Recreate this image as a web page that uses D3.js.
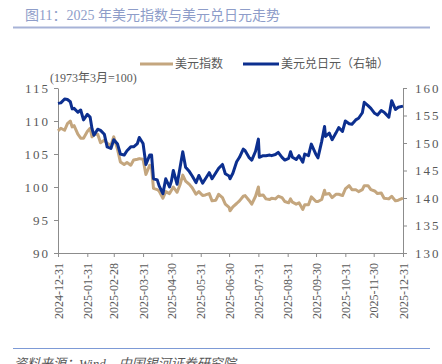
<!DOCTYPE html>
<html>
<head>
<meta charset="utf-8">
<script src="https://cdn.jsdelivr.net/npm/d3@7"></script>
<style>
  body { margin: 0; background: #fff; }
  svg { display: block; }
</style>
</head>
<body>
<div id="chart"></div>
<script>
const width = 442;
const height = 364;

// dates sampled about twice a week
const dates = [
  '2024-12-31','2025-01-03','2025-01-07','2025-01-10','2025-01-13','2025-01-15','2025-01-17','2025-01-21','2025-01-24','2025-01-27',
  '2025-01-31','2025-02-03','2025-02-05','2025-02-07','2025-02-11','2025-02-14','2025-02-18','2025-02-21','2025-02-25','2025-02-28',
  '2025-03-04','2025-03-07','2025-03-11','2025-03-14','2025-03-18','2025-03-21','2025-03-25','2025-03-27','2025-03-31','2025-04-03',
  '2025-04-07','2025-04-09','2025-04-11','2025-04-15','2025-04-17','2025-04-21','2025-04-24','2025-04-28','2025-04-30','2025-05-02',
  '2025-05-06','2025-05-09','2025-05-12','2025-05-15','2025-05-19','2025-05-22','2025-05-26','2025-05-29','2025-06-02','2025-06-05',
  '2025-06-09','2025-06-12','2025-06-16','2025-06-19','2025-06-23','2025-06-26','2025-06-30','2025-07-01','2025-07-04','2025-07-08',
  '2025-07-11','2025-07-15','2025-07-17','2025-07-21','2025-07-24','2025-07-28','2025-07-31','2025-08-01','2025-08-05','2025-08-08',
  '2025-08-12','2025-08-14','2025-08-18','2025-08-21','2025-08-25','2025-08-28','2025-09-01','2025-09-03','2025-09-05','2025-09-09',
  '2025-09-12','2025-09-16','2025-09-18','2025-09-22','2025-09-25','2025-09-30','2025-10-02','2025-10-06','2025-10-09','2025-10-10',
  '2025-10-14','2025-10-17','2025-10-21','2025-10-24','2025-10-28','2025-10-31','2025-11-04','2025-11-07','2025-11-11','2025-11-14',
  '2025-11-18','2025-11-20','2025-11-24','2025-11-27','2025-12-01','2025-12-04','2025-12-08','2025-12-11','2025-12-16','2025-12-19',
  '2025-12-23','2025-12-26','2025-12-31'
];

// 美元指数 (left axis)
const dxy = [
  108.5,108.9,108.6,109.6,110.0,109.1,109.3,108.0,107.4,107.4,
  108.4,108.9,107.6,108.0,108.0,106.7,107.1,106.6,106.3,107.6,
  105.7,103.8,103.4,103.7,103.3,104.1,104.2,104.3,104.2,101.9,
  103.3,102.9,99.8,99.6,99.4,98.3,99.3,99.0,99.5,100.0,
  99.2,100.3,101.8,100.9,100.4,99.9,98.9,99.3,98.7,98.8,
  99.0,97.9,98.0,98.9,98.4,97.4,96.9,96.4,97.0,97.5,
  97.9,98.6,98.7,98.0,97.4,98.6,100.0,98.7,98.8,98.2,
  98.1,98.3,98.2,98.6,98.4,97.8,97.6,98.2,97.7,97.4,
  97.6,96.6,97.3,97.3,98.5,97.8,97.8,98.1,99.5,98.9,
  99.0,98.4,98.9,98.9,98.7,99.7,100.2,99.6,99.6,99.3,
  99.6,100.2,100.2,99.6,99.4,99.0,99.1,98.3,98.2,98.6,
  97.9,98.0,98.3
];

// 美元兑日元 (right axis)
const usdjpy = [
  157.2,157.3,158.0,157.9,157.5,156.2,156.3,155.6,156.0,154.2,
  155.2,154.7,152.6,151.4,152.5,152.3,151.6,149.3,149.0,150.6,
  149.8,148.0,147.8,148.6,149.3,149.3,149.9,151.0,149.9,146.1,
  147.8,147.8,143.5,143.3,142.2,140.8,143.5,142.0,143.1,145.0,
  142.5,145.4,148.4,145.6,144.8,144.0,142.8,144.1,142.7,143.5,
  144.6,143.5,144.6,145.4,146.1,144.4,144.0,143.5,144.5,146.6,
  147.4,148.9,148.6,147.4,146.9,148.5,150.7,147.4,147.7,147.7,
  147.8,147.7,147.9,148.3,147.4,146.9,147.2,148.4,147.4,147.0,
  147.7,146.5,148.0,147.7,149.8,147.9,147.3,150.3,153.0,151.2,
  151.8,150.6,151.8,152.8,152.1,154.0,153.5,153.4,154.2,154.5,
  155.5,157.4,156.8,156.3,155.4,155.1,155.9,155.6,154.7,157.7,
  156.1,156.5,156.7
];

const xTickLabels = [
  '2024-12-31','2025-01-31','2025-02-28','2025-03-31','2025-04-30','2025-05-31','2025-06-30',
  '2025-07-31','2025-08-31','2025-09-30','2025-10-31','2025-11-30','2025-12-31'
];
const leftTicks = [90, 95, 100, 105, 110, 115];
const rightTicks = [130, 135, 140, 145, 150, 155, 160];

const parse = d3.timeParse('%Y-%m-%d');
const fmt = d3.timeFormat('%Y-%m-%d');

const plot = { left: 58, right: 403, top: 88, bottom: 253 };
const tan = '#c4a67e';
const navy = '#0c2f8f';
const axisColor = '#8c8c8c';
const labelColor = '#595959';
const serif = '"Liberation Serif", "Times New Roman", serif';
const cjk = '"Noto Sans CJK SC", sans-serif';

const svg = d3.select('#chart')
  .append('svg')
  .attr('width', width)
  .attr('height', height);

// title
svg.append('text')
  .attr('x', 25)
  .attr('y', 20)
  .attr('font-family', serif + ', ' + cjk)
  .attr('font-size', 14)
  .attr('fill', '#8e9dc9')
  .text('图11：2025 年美元指数与美元兑日元走势');

svg.append('line')
  .attr('x1', 13).attr('x2', 430)
  .attr('y1', 27.5).attr('y2', 27.5)
  .attr('stroke', '#a7b3d7')
  .attr('stroke-width', 2);

const x = d3.scaleTime()
  .domain([parse(dates[0]), parse(dates[dates.length - 1])])
  .range([plot.left, plot.right]);

const yL = d3.scaleLinear().domain([90, 115]).range([plot.bottom, plot.top]);
const yR = d3.scaleLinear().domain([130, 160]).range([plot.bottom, plot.top]);

// axes
const gx = svg.append('g')
  .attr('transform', `translate(0,${plot.bottom})`)
  .call(d3.axisBottom(x).tickValues(xTickLabels.map(parse)).tickFormat(fmt).tickSize(4).tickSizeOuter(0));
gx.selectAll('text')
  .attr('transform', 'rotate(-90)')
  .attr('x', -10)
  .attr('y', 0)
  .attr('dy', '0.35em')
  .style('text-anchor', 'end')
  .attr('font-family', serif)
  .attr('font-size', 12)
  .attr('fill', labelColor);

const gl = svg.append('g')
  .attr('transform', `translate(${plot.left},0)`)
  .call(d3.axisLeft(yL).tickValues(leftTicks).tickSize(4).tickSizeOuter(0).tickPadding(4));
gl.selectAll('text')
  .attr('font-family', serif)
  .attr('font-size', 13)
  .attr('letter-spacing', '2px')
  .attr('fill', labelColor);

const gr = svg.append('g')
  .attr('transform', `translate(${plot.right},0)`)
  .call(d3.axisRight(yR).tickValues(rightTicks).tickSize(4).tickSizeOuter(0).tickPadding(8));
gr.selectAll('text')
  .attr('font-family', serif)
  .attr('font-size', 13)
  .attr('letter-spacing', '2px')
  .attr('fill', labelColor);

[gx, gl, gr].forEach(g => {
  g.select('.domain').attr('stroke', axisColor);
  g.selectAll('.tick line').attr('stroke', axisColor);
});

// unit note
svg.append('text')
  .attr('x', 50)
  .attr('y', 82)
  .attr('font-family', serif + ', ' + cjk)
  .attr('font-size', 12)
  .attr('fill', labelColor)
  .text('(1973年3月=100)');

// lines
const dxyData = dates.map((d, i) => ({ date: parse(d), value: dxy[i] }));
const jpyData = dates.map((d, i) => ({ date: parse(d), value: usdjpy[i] }));

svg.append('path')
  .datum(dxyData)
  .attr('fill', 'none')
  .attr('stroke', tan)
  .attr('stroke-width', 3)
  .attr('stroke-linejoin', 'round')
  .attr('d', d3.line().x(d => x(d.date)).y(d => yL(d.value)));

svg.append('path')
  .datum(jpyData)
  .attr('fill', 'none')
  .attr('stroke', navy)
  .attr('stroke-width', 3)
  .attr('stroke-linejoin', 'round')
  .attr('d', d3.line().x(d => x(d.date)).y(d => yR(d.value)));

// legend
const legend = [
  { label: '美元指数', color: tan, x1: 140, x2: 173, tx: 175 },
  { label: '美元兑日元（右轴）', color: navy, x1: 243, x2: 279, tx: 281 }
];
legend.forEach(l => {
  svg.append('line')
    .attr('x1', l.x1).attr('x2', l.x2)
    .attr('y1', 64).attr('y2', 64)
    .attr('stroke', l.color)
    .attr('stroke-width', 3);
  svg.append('text')
    .attr('x', l.tx)
    .attr('y', 68)
    .attr('font-family', cjk)
    .attr('font-size', 12)
    .attr('fill', labelColor)
    .text(l.label);
});

// source
svg.append('line')
  .attr('x1', 13).attr('x2', 430)
  .attr('y1', 348.5).attr('y2', 348.5)
  .attr('stroke', '#7d9ad6')
  .attr('stroke-width', 1);

svg.append('text')
  .attr('x', 14)
  .attr('y', 368)
  .attr('font-family', serif + ', ' + cjk)
  .attr('font-size', 13)
  .attr('font-style', 'italic')
  .attr('fill', '#555')
  .text('资料来源：Wind，中国银河证券研究院');
</script>
</body>
</html>
